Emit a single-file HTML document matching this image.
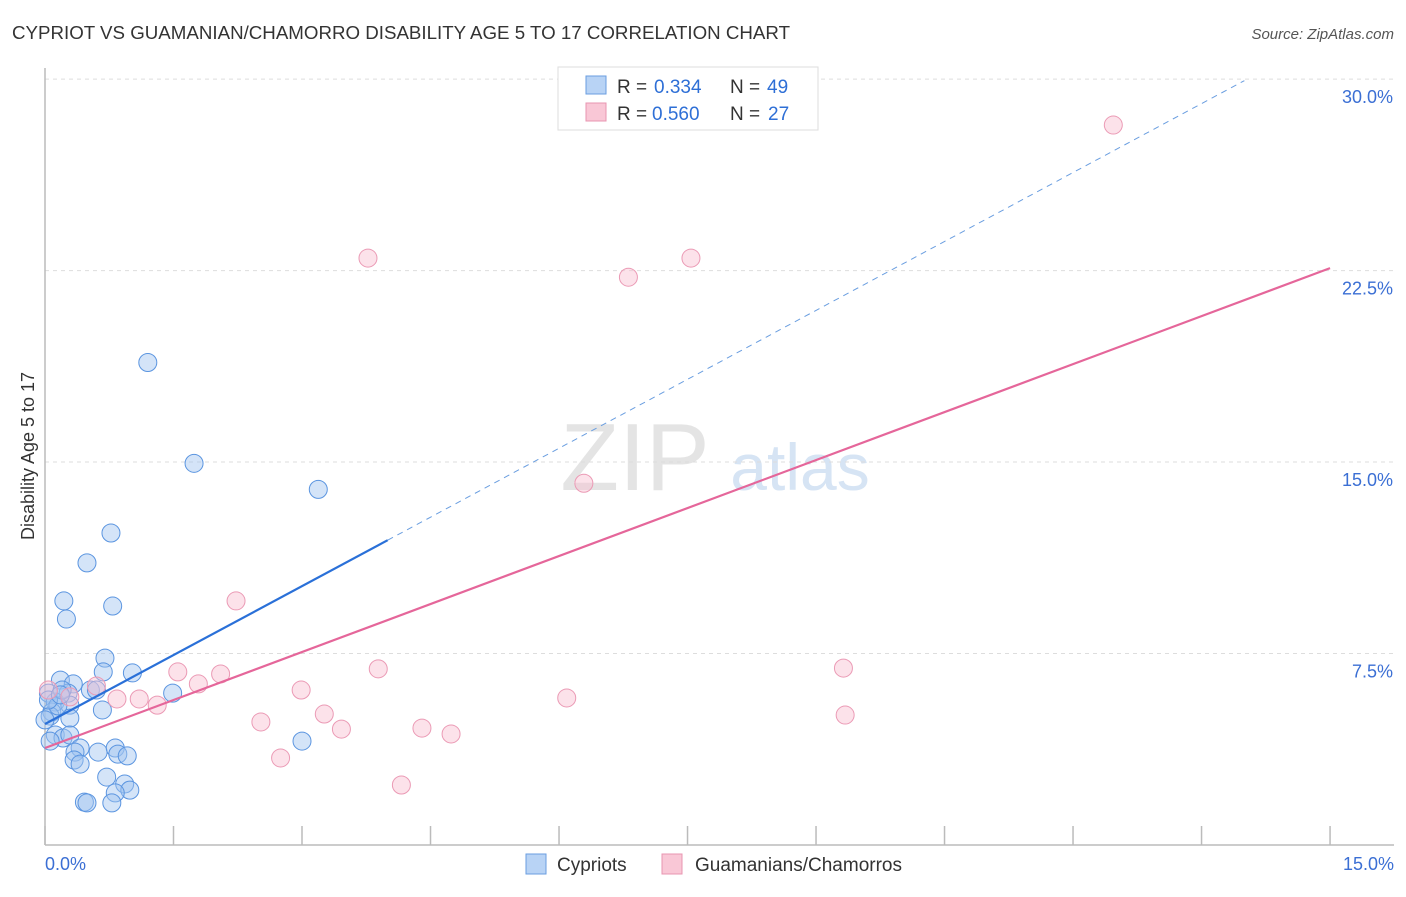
<!DOCTYPE html>
<html><head><meta charset="utf-8"><style>
body{margin:0;background:#fff;font-family:"Liberation Sans",sans-serif}
svg text{font-family:"Liberation Sans",sans-serif}
</style></head><body>
<svg id="chart" width="1406" height="892" viewBox="0 0 1406 892">
<text x="12" y="39" font-size="18" fill="#333" textLength="778" lengthAdjust="spacingAndGlyphs">CYPRIOT VS GUAMANIAN/CHAMORRO DISABILITY AGE 5 TO 17 CORRELATION CHART</text>
<text x="1394" y="39" font-size="15" fill="#555" text-anchor="end" font-style="italic">Source: ZipAtlas.com</text>
<text x="635" y="490" font-size="96" fill="#e4e4e4" text-anchor="middle" font-family="Liberation Serif">ZIP</text>
<text x="800" y="490" font-size="66" fill="#d6e4f4" text-anchor="middle">atlas</text>
<g id="grid"></g>
<g id="axes"></g>
<g id="marks"></g>
<text transform="translate(34,456) rotate(-90)" font-size="18" fill="#333" text-anchor="middle">Disability Age 5 to 17</text>
<text x="45" y="870" font-size="18" fill="#3b6fd4">0.0%</text>
<text x="1394" y="870" font-size="18" fill="#3b6fd4" text-anchor="end">15.0%</text>
<g>
<rect x="558" y="67" width="260" height="63" fill="#fff" stroke="#ddd"/>
<rect x="586" y="76" width="20" height="18" fill="#b8d3f5" stroke="#6a9ee0"/>
<rect x="586" y="103" width="20" height="18" fill="#f9c7d6" stroke="#e895b0"/>
<text x="617" y="93" font-size="19" fill="#333">R =</text>
<text x="654" y="93" font-size="19" fill="#2e6fd6">0.334</text>
<text x="730" y="93" font-size="19" fill="#333">N =</text>
<text x="767" y="93" font-size="19" fill="#2e6fd6">49</text>
<text x="617" y="120" font-size="19" fill="#333">R =</text>
<text x="652" y="120" font-size="19" fill="#2e6fd6">0.560</text>
<text x="730" y="120" font-size="19" fill="#333">N =</text>
<text x="768" y="120" font-size="19" fill="#2e6fd6">27</text>
</g>
<g>
<rect x="526" y="854" width="20" height="20" fill="#b8d3f5" stroke="#6a9ee0"/>
<text x="557" y="871" font-size="19" fill="#333">Cypriots</text>
<rect x="662" y="854" width="20" height="20" fill="#f9c7d6" stroke="#e895b0"/>
<text x="695" y="871" font-size="19" fill="#333">Guamanians/Chamorros</text>
</g>
</svg>
<script>
const blueX=[1.2,1.74,3.19,0.77,0.49,0.22,0.79,0.25,0.70,0.18,0.33,0.68,1.02,0.53,1.49,0.04,0.27,0.12,0.29,0.08,0.67,0.29,0.06,0.12,0.21,0.29,0.41,0.35,0.62,0.82,0.85,0.96,0.34,0.41,0.72,0.93,0.99,0.82,3.0,0.46,0.49,0.78,0.0,0.15,0.04,0.2,0.6,0.06,0.18];
const blueY=[18.9,14.95,13.93,12.22,11.05,9.56,9.36,8.85,7.32,6.46,6.31,6.78,6.74,6.07,5.95,5.95,5.95,5.6,5.48,5.21,5.29,4.97,5.05,4.31,4.19,4.31,3.8,3.64,3.64,3.8,3.56,3.49,3.33,3.17,2.66,2.39,2.15,2.04,4.07,1.68,1.65,1.65,4.9,5.45,5.68,6.07,6.07,4.07,5.88];
const pinkX=[12.47,3.77,6.81,7.54,6.29,2.23,1.55,2.05,3.89,9.32,1.79,2.99,0.60,0.84,1.10,1.31,6.09,2.52,3.26,3.46,4.40,4.74,9.34,2.75,4.16,0.04,0.29];
const pinkY=[28.2,22.99,22.24,22.99,14.17,9.56,6.78,6.7,6.9,6.93,6.31,6.07,6.23,5.72,5.72,5.48,5.76,4.82,5.13,4.54,4.58,4.35,5.09,3.41,2.35,6.07,5.8];
const blueFit=[4.74,1.80];
const pinkFit=[3.80,1.253];
const yTicks=[7.5,15,22.5,30];
const yTickLabels=["7.5%","15.0%","22.5%","30.0%"];
const xTicks=[0,1.5,3,4.5,6,7.5,9,10.5,12,13.5,15];
const NS='http://www.w3.org/2000/svg';
const sx=v=>45+v*85.67, sy=v=>845-v*25.53;
function mk(tag,attrs,parent){const e=document.createElementNS(NS,tag);for(const k in attrs)e.setAttribute(k,attrs[k]);parent.appendChild(e);return e;}
const grid=document.getElementById('grid'),axes=document.getElementById('axes'),marks=document.getElementById('marks');
yTicks.forEach((t,i)=>{
 const l=mk('line',{x1:45,x2:1394,y1:sy(t),y2:sy(t),stroke:'#ddd','stroke-dasharray':'4,4'},grid);
 
 
 const tx=mk('text',{x:1393,y:sy(t)+24,'font-size':18,fill:'#3b6fd4','text-anchor':'end'},grid);
 tx.textContent=yTickLabels[i];
 
 
});
const ya=mk('line',{x1:45,x2:45,y1:68,y2:845,stroke:'#bbb','stroke-width':1.5},axes);


const xa=mk('line',{x1:45,x2:1394,y1:845,y2:845,stroke:'#bbb','stroke-width':1.5},axes);


xTicks.forEach(t=>{
 const l=mk('line',{x1:sx(t),x2:sx(t),y1:826,y2:845,stroke:'#bbb','stroke-width':1.5},axes);
 
 
});
blueX.forEach((x,i)=>{
 const c=mk('circle',{cx:sx(x),cy:sy(blueY[i]),r:9,fill:'rgba(160,196,240,0.45)',stroke:'#5b95e0','stroke-width':1},marks);
 
 
});
pinkX.forEach((x,i)=>{
 const c=mk('circle',{cx:sx(x),cy:sy(pinkY[i]),r:9,fill:'rgba(248,190,208,0.45)',stroke:'#eb9ab5','stroke-width':1},marks);
 
 
});
const bEnd=4.0, bDash=14.0;
const bl=mk('line',{x1:sx(0),y1:sy(blueFit[0]),x2:sx(bEnd),y2:sy(blueFit[0]+blueFit[1]*bEnd),stroke:'#2a70d8','stroke-width':2.2},marks);


const bd=mk('line',{x1:sx(bEnd),y1:sy(blueFit[0]+blueFit[1]*bEnd),x2:sx(bDash),y2:sy(blueFit[0]+blueFit[1]*bDash),stroke:'#6a9ee0','stroke-width':1,'stroke-dasharray':'6,5'},marks);


const pl=mk('line',{x1:sx(0),y1:sy(pinkFit[0]),x2:sx(15),y2:sy(pinkFit[0]+pinkFit[1]*15),stroke:'#e5669a','stroke-width':2.2},marks);


</script>
</body></html>
